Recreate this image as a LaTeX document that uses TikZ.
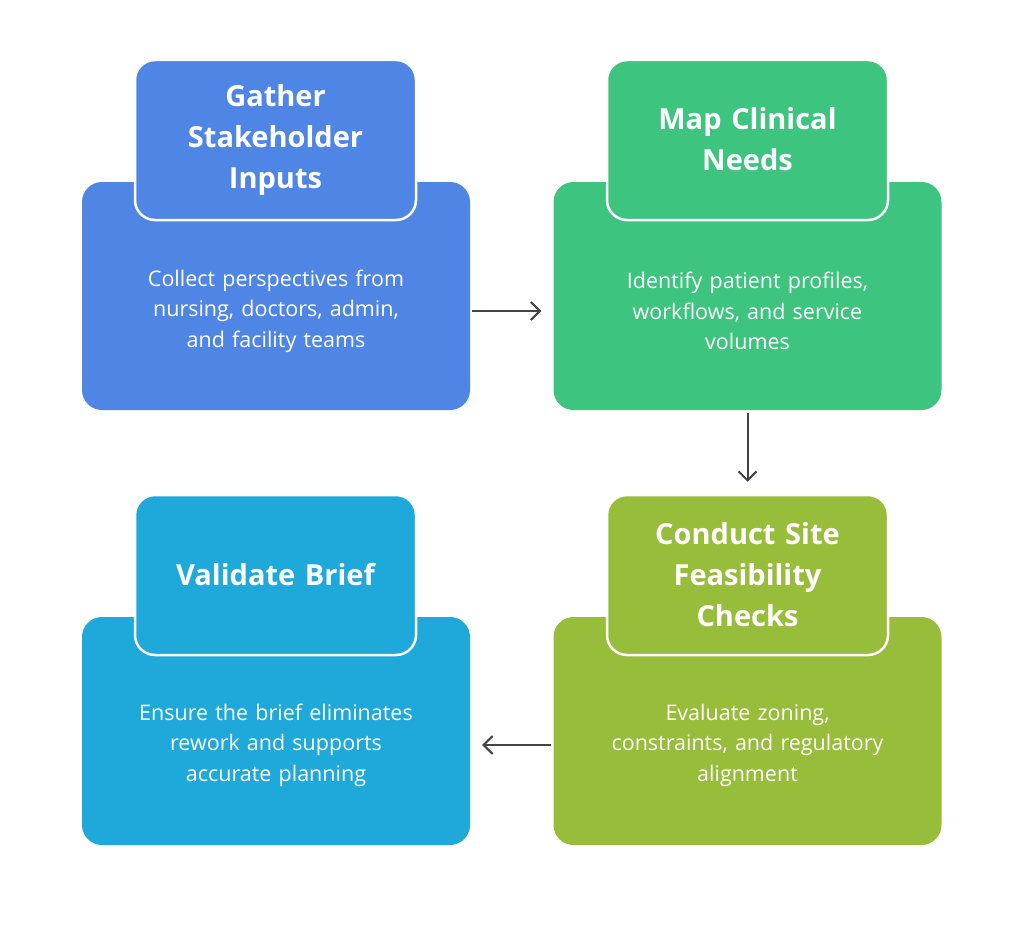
\documentclass[tikz,border=0pt]{standalone}
\usepackage{fontspec}
\setmainfont{Open Sans}
\usepackage{tikz}
\definecolor{cblue}{HTML}{4F86E6}
\definecolor{cgreen}{HTML}{3DC47E}
\definecolor{colive}{HTML}{97BD3B}
\definecolor{ccyan}{HTML}{1FA9DB}
\definecolor{carrow}{HTML}{444444}
\tikzset{
  card/.style={draw=none,fill=#1,rounded corners=20pt,minimum width=388pt,minimum height=228pt,inner sep=0pt},
  head/.style={draw=white,line width=2.5pt,fill=#1,rounded corners=20pt,minimum width=281pt,minimum height=160pt,inner sep=0pt},
  ttl/.style={text=white,font=\bfseries\fontsize{29}{41}\selectfont,align=center,text width=270pt},
  txt/.style={text=white,font=\fontsize{21.5}{30.5}\selectfont,align=center,text width=360pt},
  flow/.style={draw=carrow,line width=2pt,-{Straight Barb[length=9pt,width=18pt]}}
}
\usetikzlibrary{arrows.meta}
\begin{document}
\begin{tikzpicture}[x=1pt,y=-1pt]
\useasboundingbox (0,0) rectangle (1024,931);
% top left
\node[card=cblue] (gather) at (276,296) {};
\node[head=cblue] (gatherH) at (275.5,140) {};
\node[ttl] at (gatherH) {Gather\\Stakeholder\\Inputs};
\node[txt] at (276,311) {Collect perspectives from\\nursing, doctors, admin,\\and facility teams};
% top right
\node[card=cgreen] (map) at (747.5,296) {};
\node[head=cgreen] (mapH) at (747.5,140) {};
\node[ttl] at (747.5,139) {Map Clinical\\Needs};
\node[txt] at (747.5,311) {Identify patient profiles,\\workflows, and service\\volumes};
% bottom right
\node[card=colive] (site) at (747.5,731) {};
\node[head=colive] (siteH) at (747.5,575) {};
\node[ttl] at (siteH) {Conduct Site\\Feasibility\\Checks};
\node[txt] at (747.5,745) {Evaluate zoning,\\constraints, and regulatory\\alignment};
% bottom left
\node[card=ccyan] (valid) at (276,731) {};
\node[head=ccyan] (validH) at (275.5,575) {};
\node[ttl] at (validH) {Validate Brief};
\node[txt] at (276,745) {Ensure the brief eliminates\\rework and supports\\accurate planning};
% arrows
\draw[flow] ([xshift=2pt,yshift=-15pt]gather.east) -- ([xshift=-12pt,yshift=-15pt]map.west);
\draw[flow] ([yshift=-3pt]map.south) -- ([yshift=12pt]siteH.north);
\draw[flow] ([xshift=-2pt,yshift=-14pt]site.west) -- ([xshift=12pt,yshift=-14pt]valid.east);
\end{tikzpicture}
\end{document}
